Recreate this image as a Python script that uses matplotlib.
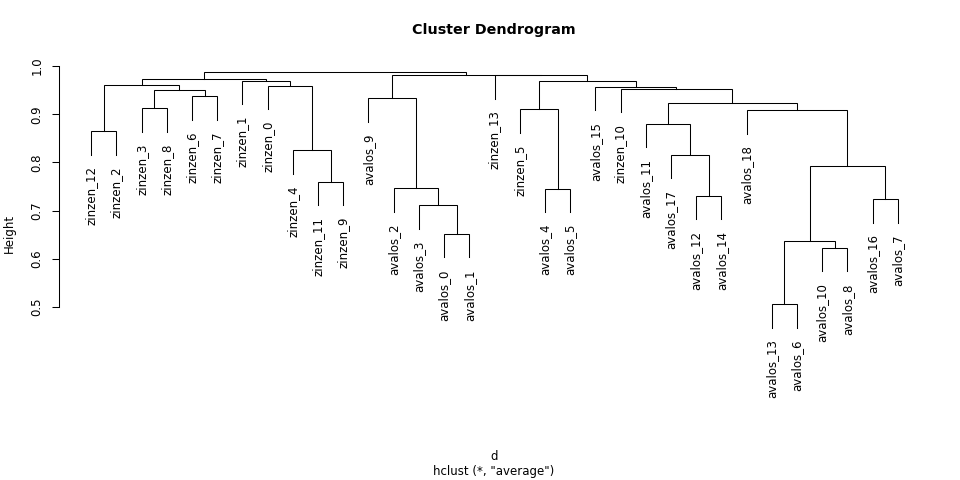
import matplotlib
matplotlib.use("Agg")
import matplotlib.pyplot as plt

# leaves in plotting order
labels = ["zinzen_12", "zinzen_2", "zinzen_3", "zinzen_8", "zinzen_6", "zinzen_7",
          "zinzen_1", "zinzen_0", "zinzen_4", "zinzen_11", "zinzen_9", "avalos_9",
          "avalos_2", "avalos_3", "avalos_0", "avalos_1", "zinzen_13", "zinzen_5",
          "avalos_4", "avalos_5", "avalos_15", "zinzen_10", "avalos_11", "avalos_17",
          "avalos_12", "avalos_14", "avalos_18", "avalos_13", "avalos_6", "avalos_10",
          "avalos_8", "avalos_16", "avalos_7"]

# merges: str = leaf, int = earlier merge row
merge_left = ["avalos_13", "avalos_10", 0, "avalos_0", "avalos_3", "avalos_16",
              "avalos_12", "avalos_4", "avalos_2", "zinzen_11", 2, "avalos_17",
              "zinzen_4", "zinzen_12", "avalos_11", "avalos_18", "zinzen_5", "zinzen_3",
              14, "avalos_9", "zinzen_6", 17, "zinzen_10", "avalos_15", "zinzen_0",
              13, "zinzen_1", 16, 25, "zinzen_13", 19, 28]
merge_right = ["avalos_6", "avalos_8", 1, "avalos_1", 3, "avalos_7",
               "avalos_14", "avalos_5", 4, "zinzen_9", 5, 6,
               9, "zinzen_2", 11, 10, 7, "zinzen_8",
               15, 8, "zinzen_7", 20, 18, 22, 12,
               21, 24, 23, 26, 27, 29, 30]
heights = [0.5055, 0.622, 0.637, 0.651, 0.711, 0.7235,
           0.731, 0.745, 0.746, 0.760, 0.792, 0.815,
           0.825, 0.8645, 0.880, 0.908, 0.910, 0.912,
           0.924, 0.933, 0.937, 0.9496, 0.952, 0.956, 0.9585,
           0.960, 0.9695, 0.9698, 0.9737, 0.9806, 0.982, 0.988]

hang = 0.1 * (max(heights) - min(heights))
leaf_x = {name: i + 1 for i, name in enumerate(labels)}
fs = 8.5

fig = plt.figure(figsize=(9.6, 4.8), dpi=100)
ax = fig.add_axes([59 / 960, 73 / 480, 871 / 960, 348 / 480])

node_x = []
for i, (l, r) in enumerate(zip(merge_left, merge_right)):
    h = heights[i]
    pts = []
    for c in (l, r):
        if isinstance(c, str):
            pts.append((leaf_x[c], h - hang))
            ax.annotate(c, (leaf_x[c], h - hang), xytext=(0, -8.5), textcoords="offset points",
                        rotation=90, ha="center", va="top", fontsize=fs)
        else:
            pts.append((node_x[c], heights[c]))
    (x1, y1), (x2, y2) = pts
    ax.plot([x1, x1, x2, x2], [y1, h, h, y2], color="black", lw=0.75, solid_joinstyle="miter")
    node_x.append((x1 + x2) / 2)

n = len(labels)
ext = 0.04 * (n - 1)
ax.set_xlim(1 - ext, n + ext)
ax.set_ylim(0.5 - 100 / 482, 1 + 7 / 482)

for s in ["top", "right", "bottom"]:
    ax.spines[s].set_visible(False)
ax.spines["left"].set_bounds(0.5, 1.0)
ax.spines["left"].set_linewidth(0.75)
ax.set_xticks([])
ax.set_yticks([0.5, 0.6, 0.7, 0.8, 0.9, 1.0])
ax.set_yticklabels(["0.5", "0.6", "0.7", "0.8", "0.9", "1.0"], rotation=90, va="center", fontsize=fs)
ax.tick_params(axis="y", length=5, width=0.75, pad=6)
ax.set_ylabel("Height", fontsize=fs, labelpad=11)

fig.text(494 / 960, 1 - 30 / 480, "Cluster Dendrogram", ha="center", va="center",
         fontsize=10.3, fontweight="bold")
fig.text(494 / 960, 1 - 457 / 480, "d", ha="center", va="center", fontsize=fs)
fig.text(494 / 960, 1 - 471 / 480, 'hclust (*, "average")', ha="center", va="center", fontsize=fs)

fig.savefig("out.png", dpi=100)
